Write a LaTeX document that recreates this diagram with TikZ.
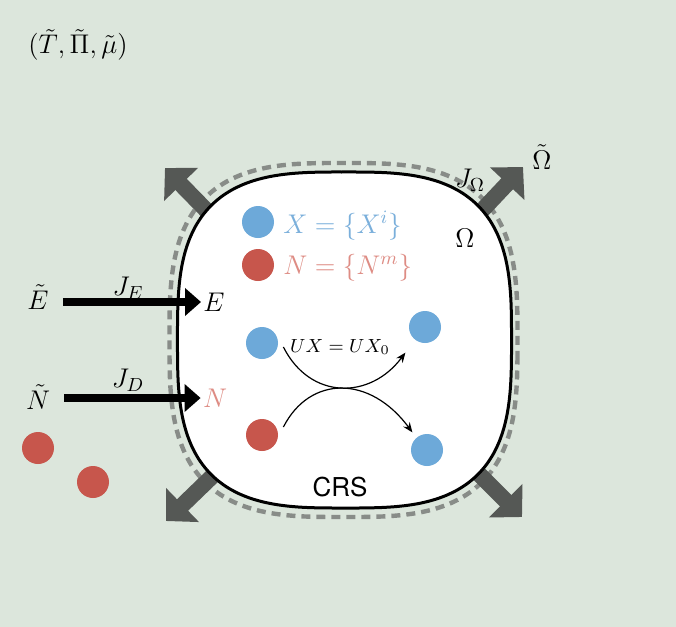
\documentclass[tikz,border=0pt]{standalone}
\usepackage{fix-cm}
\usepackage{fontspec}
\newfontfamily\crsfont{TeX Gyre Heros}
\usetikzlibrary{arrows.meta}

\definecolor{bgcol}{HTML}{DCE6DC}
\definecolor{dotblue}{HTML}{6DA9D9}
\definecolor{dotred}{HTML}{C7564C}
\definecolor{txtblue}{HTML}{7AAFDB}
\definecolor{txtred}{HTML}{DE8C84}
\definecolor{fluxgray}{HTML}{555855}
\definecolor{dashgray}{HTML}{888C88}

\tikzset{
  dot/.style={circle, inner sep=0pt, minimum size=16pt},
  bluedot/.style={dot, fill=dotblue},
  reddot/.style={dot, fill=dotred},
  lbl/.style={font=\fontsize{13.5}{15}\selectfont, inner sep=1pt},
  flux/.style={line width=8pt, fluxgray, -{Triangle[length=11.5pt, width=23pt]}},
  inflow/.style={line width=4pt, -{Triangle[length=8pt, width=13.5pt]}},
  swap/.style={line width=0.6pt, -{Stealth[length=5pt, width=4pt]}}
}

\begin{document}
\begin{tikzpicture}[x=0.5pt, y=-0.5pt]

\fill[bgcol] (0,0) rectangle (676,627);
\useasboundingbox (0,0) rectangle (676,627);

% outer dashed boundary
\draw[dashgray, line width=2.2pt, dash pattern=on 4.5pt off 3pt]
  plot[domain=1:357, samples=90, smooth cycle]
  ({343.5+174*cos(\x)*(abs(cos(\x))^3.1+abs(sin(\x))^3.1)^(-1/3.1)},
   {340+177*sin(\x)*(abs(cos(\x))^3.1+abs(sin(\x))^3.1)^(-1/3.1)});

% fluxes through Omega
\coordinate (ulin) at (250,255);
\coordinate (ulout) at (165,168);
\coordinate (urin) at (440,255);
\coordinate (urout) at (523,167);
\coordinate (llin) at (255,435);
\coordinate (llout) at (166,521);
\coordinate (lrin) at (435,430);
\coordinate (lrout) at (522,517);

\draw[flux] (ulin) -- (ulout);
\draw[flux] (urin) -- (urout);
\draw[flux] (llin) -- (llout);
\draw[flux] (lrin) -- (lrout);

% the system
\draw[fill=white, line width=1.5pt]
  plot[domain=1:357, samples=90, smooth cycle]
  ({344.5+167*cos(\x)*(abs(cos(\x))^3.1+abs(sin(\x))^3.1)^(-1/3.1)},
   {340+168*sin(\x)*(abs(cos(\x))^3.1+abs(sin(\x))^3.1)^(-1/3.1)});

\node[lbl] (res) at (78,45) {$(\tilde{T},\tilde{\Pi},\tilde{\mu})$};
\node[lbl] (Om) at (465,238) {$\Omega$};
\node[lbl] (JOm) at (470,180) {$J_\Omega$};
\node[lbl] (Omt) at (542,157) {$\tilde{\Omega}$};

% legend
\node[bluedot] (xleg) at (258,222) {};
\node[reddot] (nleg) at (258,265) {};
\node[lbl, anchor=west, txtblue] (xtxt) at (281,226) {$X=\{X^i\}$};
\node[lbl, anchor=west, txtred] (ntxt) at (281,268) {$N=\{N^m\}$};

% energy and matter inflow
\node[lbl] (Et) at (38,297) {$\tilde{E}$};
\node[lbl] (JE) at (128,288) {$J_E$};
\node[lbl] (E) at (214,302) {$E$};
\node[lbl] (Nt) at (38,397) {$\tilde{N}$};
\node[lbl] (JD) at (128,380) {$J_D$};
\node[lbl, txtred] (N) at (215,398) {$N$};

\draw[inflow] ([xshift=6]Et.east |- E) -- (E.west);
\draw[inflow] ([xshift=6]Nt.east |- N) -- (N.west);

% reservoir species
\node[reddot] (nres1) at (38,448) {};
\node[reddot] (nres2) at (93,482) {};

% reaction
\node[bluedot] (xa) at (262,343) {};
\node[reddot] (na) at (262,435) {};
\node[bluedot] (xb) at (425,327) {};
\node[bluedot] (xc) at (427,450) {};

\draw[swap] ([shift={(5,4)}]xa.east) .. controls (310,400) and (370,400) .. ([shift={(-8,14)}]xb.south west);
\draw[swap] ([shift={(5,-8)}]na.east) .. controls (310,375) and (370,375) .. ([shift={(-3,-6)}]xc.north west);

\node[font=\fontsize{9.5}{11}\selectfont] (cons) at (340,347) {$UX=UX_0$};
\node[font=\crsfont\fontsize{13}{15}\selectfont] (crs) at (340,487) {CRS};

\end{tikzpicture}
\end{document}
